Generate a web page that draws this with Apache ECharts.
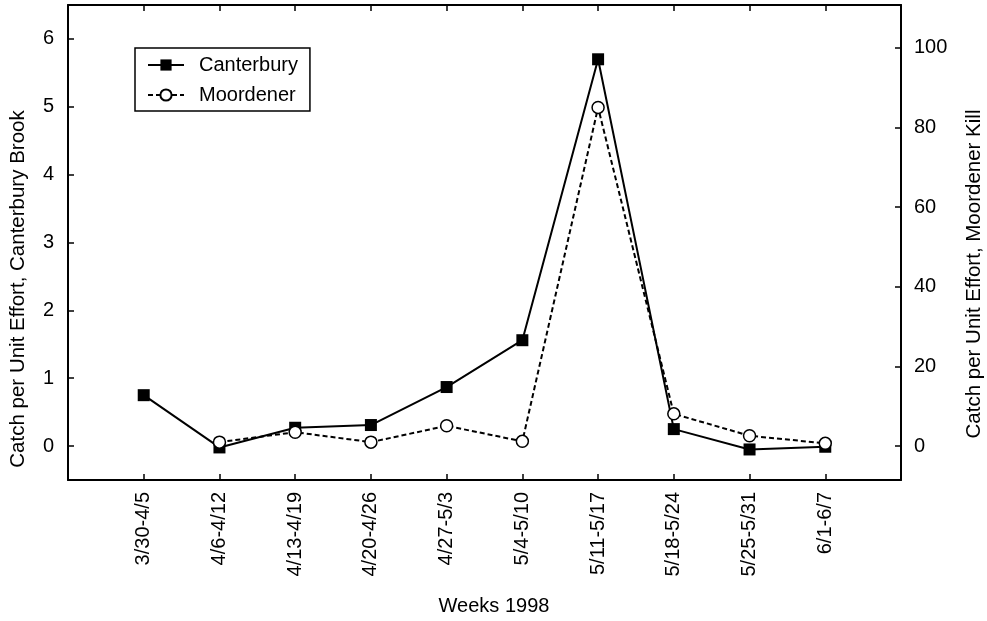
<!DOCTYPE html>
<html>
<head>
<meta charset="utf-8">
<script src="https://cdn.jsdelivr.net/npm/echarts@6/dist/echarts.min.js"></script>
<style>
  html, body { margin: 0; padding: 0; background: #fff; }
  #chart { width: 987px; height: 621px; }
</style>
</head>
<body>
<div id="chart"></div>
<script>
// Weekly sampling periods, spring 1998
const weeks = ['3/30-4/5', '4/6-4/12', '4/13-4/19', '4/20-4/26', '4/27-5/3',
               '5/4-5/10', '5/11-5/17', '5/18-5/24', '5/25-5/31', '6/1-6/7'];

// Catch per unit effort, Canterbury Brook (left axis)
const canterbury = [0.75, -0.02, 0.27, 0.31, 0.87, 1.56, 5.70, 0.25, -0.05, -0.01];

// Catch per unit effort, Moordener Kill (right axis); no sample the first week
const moordener = [null, 1.0, 3.5, 1.0, 5.1, 1.2, 85.0, 8.1, 2.6, 0.7];

// Tick values for each vertical axis
const leftTicks = [0, 1, 2, 3, 4, 5, 6];
const rightTicks = [0, 20, 40, 60, 80, 100];

const FONT = "'Liberation Sans', Arial, Helvetica, sans-serif";
const INK = '#000';

// One blank slot on each side so the weeks sit one step in from the frame
const cats = [''].concat(weeks, ['']);
const pad = arr => [null].concat(arr, [null]);

const chart = echarts.init(document.getElementById('chart'), null, { renderer: 'canvas' });

const frameLine = { show: true, onZero: false, lineStyle: { color: INK, width: 2 } };
const innerTick = { show: true, inside: true, length: 6, lineStyle: { color: INK, width: 1.5 } };

chart.setOption({
  animation: false,
  backgroundColor: '#fff',
  grid: { left: 68, right: 86, top: 5, bottom: 141, containLabel: false },
  legend: {
    orient: 'vertical',
    left: 135,
    top: 48,
    padding: [7, 12, 6, 12],
    itemGap: 10,
    itemWidth: 36,
    itemHeight: 14,
    borderColor: INK,
    borderWidth: 1.5,
    textStyle: { fontFamily: FONT, fontSize: 20, color: INK, lineHeight: 20, padding: [0, 0, 0, 10] },
    data: ['Canterbury', 'Moordener']
  },
  xAxis: [
    {
      type: 'category',
      data: cats,
      boundaryGap: false,
      position: 'bottom',
      axisLine: frameLine,
      axisTick: Object.assign({ interval: 0 }, innerTick),
      axisLabel: { interval: 0, rotate: 90, margin: 12, color: INK, fontFamily: FONT, fontSize: 20 },
      splitLine: { show: false }
    },
    {
      type: 'category',
      data: cats,
      boundaryGap: false,
      position: 'top',
      axisLine: frameLine,
      axisTick: Object.assign({ interval: 0 }, innerTick),
      axisLabel: { show: false },
      splitLine: { show: false }
    }
  ],
  yAxis: [
    {
      type: 'value',
      position: 'left',
      min: -0.5,
      max: 6.5,
      axisLine: frameLine,
      axisTick: Object.assign({ customValues: leftTicks }, innerTick),
      axisLabel: { customValues: leftTicks, margin: 14, color: INK, fontFamily: FONT, fontSize: 20 },
      splitLine: { show: false }
    },
    {
      type: 'value',
      position: 'right',
      min: -8.5,
      max: 110.7,
      axisLine: frameLine,
      axisTick: Object.assign({ customValues: rightTicks }, innerTick),
      axisLabel: { customValues: rightTicks, margin: 13, color: INK, fontFamily: FONT, fontSize: 20 },
      splitLine: { show: false }
    }
  ],
  series: [
    {
      name: 'Canterbury',
      type: 'line',
      xAxisIndex: 0,
      yAxisIndex: 0,
      data: pad(canterbury),
      symbol: 'rect',
      symbolSize: 12,
      showAllSymbol: true,
      itemStyle: { color: INK, borderColor: INK, borderWidth: 0 },
      lineStyle: { color: INK, width: 2, type: 'solid' },
      z: 2
    },
    {
      name: 'Moordener',
      type: 'line',
      xAxisIndex: 0,
      yAxisIndex: 1,
      data: pad(moordener),
      symbol: 'circle',
      symbolSize: 12,
      showAllSymbol: true,
      itemStyle: { color: '#fff', borderColor: INK, borderWidth: 1.5 },
      lineStyle: { color: INK, width: 2, type: [5, 3] },
      z: 3
    }
  ],
  graphic: [
    {
      type: 'text',
      x: 18, y: 289, rotation: Math.PI / 2,
      style: { text: 'Catch per Unit Effort, Canterbury Brook', font: '20.5px ' + FONT, fill: INK, align: 'center', verticalAlign: 'middle' }
    },
    {
      type: 'text',
      x: 974, y: 274, rotation: Math.PI / 2,
      style: { text: 'Catch per Unit Effort, Moordener Kill', font: '20.5px ' + FONT, fill: INK, align: 'center', verticalAlign: 'middle' }
    },
    {
      type: 'text',
      x: 494, y: 606,
      style: { text: 'Weeks 1998', font: '20px ' + FONT, fill: INK, align: 'center', verticalAlign: 'middle' }
    }
  ]
});
</script>
</body>
</html>
